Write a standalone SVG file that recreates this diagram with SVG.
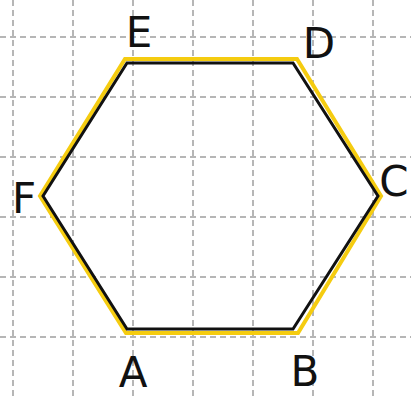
<svg xmlns="http://www.w3.org/2000/svg" width="411" height="396" viewBox="0 0 411 396">
<style>
.grid{stroke:#9e9e9e;stroke-width:1.5;stroke-dasharray:6,4;fill:none}
.hl{fill:none;stroke:#f5cc10;stroke-width:4;stroke-linejoin:miter}
.hex{fill:none;stroke:#111;stroke-width:3;stroke-linejoin:miter}
.lbl{font-family:"DejaVu Sans","Liberation Sans",sans-serif;font-size:42px;fill:#111;text-anchor:middle}
</style>
<rect width="411" height="396" fill="#fff"/>
<g id="grid" class="grid">
<path d="M13 0V396M73 0V396M133 0V396M193 0V396M253 0V396M313 0V396M373 0V396"/>
<path d="M0 37H411M0 97H411M0 157H411M0 217H411M0 277H411M0 337H411"/>
</g>
<g id="connectors">
<polygon class="hl" points="125,59 297,59 381,196 298,333 126,333 40,196"/>
<polygon class="hex" points="127,63 293,63 378,196 293,329 127,329 43,196"/>
</g>
<g id="E"><text class="lbl" x="139" y="47">E</text></g>
<g id="D"><text class="lbl" x="319" y="58">D</text></g>
<g id="C"><text class="lbl" x="394" y="196" font-size="36">C</text></g>
<g id="F"><text class="lbl" x="24" y="213">F</text></g>
<g id="A"><text class="lbl" x="133" y="387">A</text></g>
<g id="B"><text class="lbl" x="305" y="386">B</text></g>
</svg>
